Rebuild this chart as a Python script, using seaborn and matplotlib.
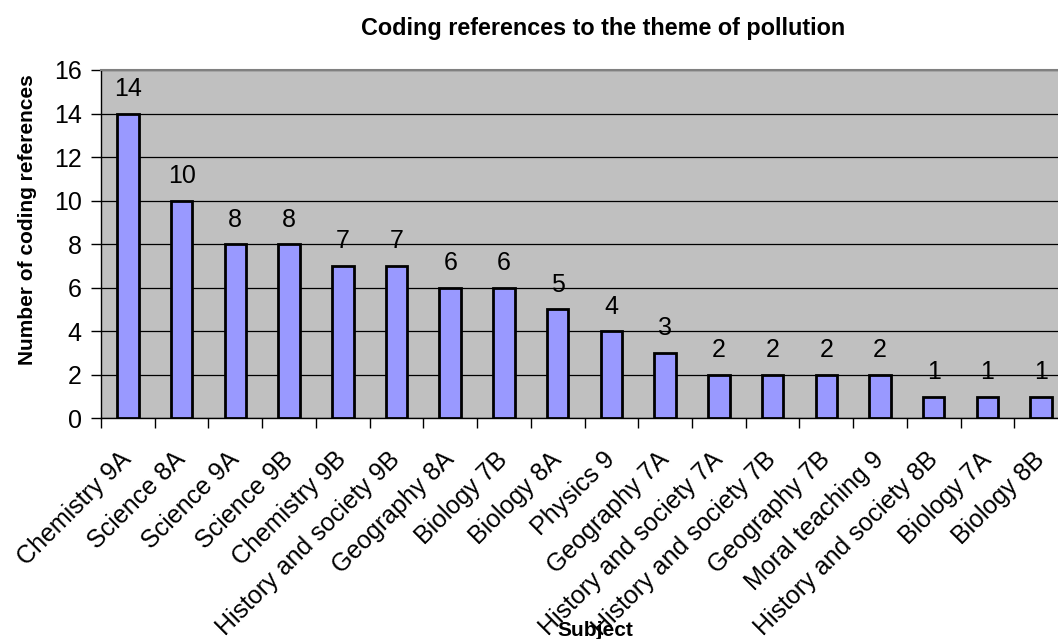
import numpy as np
import pandas as pd
import matplotlib
matplotlib.use("Agg")
import matplotlib.pyplot as plt
import seaborn as sns

subjects = [
    "Chemistry 9A", "Science 8A", "Science 9A", "Science 9B", "Chemistry 9B",
    "History and society 9B", "Geography 8A", "Biology 7B", "Biology 8A",
    "Physics 9", "Geography 7A", "History and society 7A",
    "History and society 7B", "Geography 7B", "Moral teaching 9",
    "History and society 8B", "Biology 7A", "Biology 8B",
]
references = [14, 10, 8, 8, 7, 7, 6, 6, 5, 4, 3, 2, 2, 2, 2, 1, 1, 1]
y_ticks = [0, 2, 4, 6, 8, 10, 12, 14, 16]

sns.set_style("white")
plt.rcParams["font.family"] = ["Liberation Sans", "DejaVu Sans"]
plt.rcParams["text.color"] = "black"
plt.rcParams["xtick.color"] = "black"
plt.rcParams["ytick.color"] = "black"
plt.rcParams["axes.labelcolor"] = "black"

df = pd.DataFrame({"Subject": subjects, "References": references})

fig = plt.figure(figsize=(10.58, 6.39), dpi=100)
ax = fig.add_axes([0.0955, 0.3454, 0.914, 0.5451])
ax.set_facecolor("#C0C0C0")

sns.barplot(data=df, x="Subject", y="References", ax=ax, color="#9999FF",
            saturation=1, width=0.4, edgecolor="black", linewidth=2,
            zorder=3)

ax.bar_label(ax.containers[0], fmt="%d", padding=9, fontsize=18,
             color="black", zorder=4)

n = len(subjects)
ax.set_xlim(-0.5, n - 0.5)
ax.set_ylim(0, 16)
ax.set_yticks(y_ticks)
ax.set_yticklabels([str(v) for v in y_ticks], fontsize=18)
ax.tick_params(axis="y", length=7, width=1, color="black", pad=7,
               direction="out", left=True, labelcolor="black")

# category labels at centres, tick marks at category boundaries
ax.set_xticks(np.arange(n))
ax.set_xticklabels(subjects, fontsize=18, rotation=45, ha="right",
                   va="center", rotation_mode="anchor")
ax.tick_params(axis="x", which="major", length=0, pad=27, labelcolor="black")
ax.set_xticks(np.arange(n + 1) - 0.5, minor=True)
ax.tick_params(axis="x", which="minor", length=7, width=1, color="black",
               direction="out", bottom=True)

ax.yaxis.grid(True, color="black", linewidth=0.9, zorder=0)
ax.xaxis.grid(False)
ax.set_axisbelow(True)

for side in ("left", "bottom"):
    ax.spines[side].set_color("black")
    ax.spines[side].set_linewidth(1)
ax.spines["top"].set_color("#808080")
ax.spines["top"].set_linewidth(1.5)
ax.spines["right"].set_visible(False)

ax.set_xlabel("")
ax.set_ylabel("")
fig.text(28 / 1058, 1 - 220 / 639, "Number of coding references",
         rotation=90, ha="center", va="center", fontsize=15,
         fontweight="bold")
fig.text(595 / 1058, 1 - 630 / 639, "Subject", ha="center", va="center",
         fontsize=15, fontweight="bold")
fig.text(603 / 1058, 1 - 29 / 639, "Coding references to the theme of pollution",
         ha="center", va="center", fontsize=16.8, fontweight="bold")

fig.savefig("out.png", dpi=100, facecolor="white")
